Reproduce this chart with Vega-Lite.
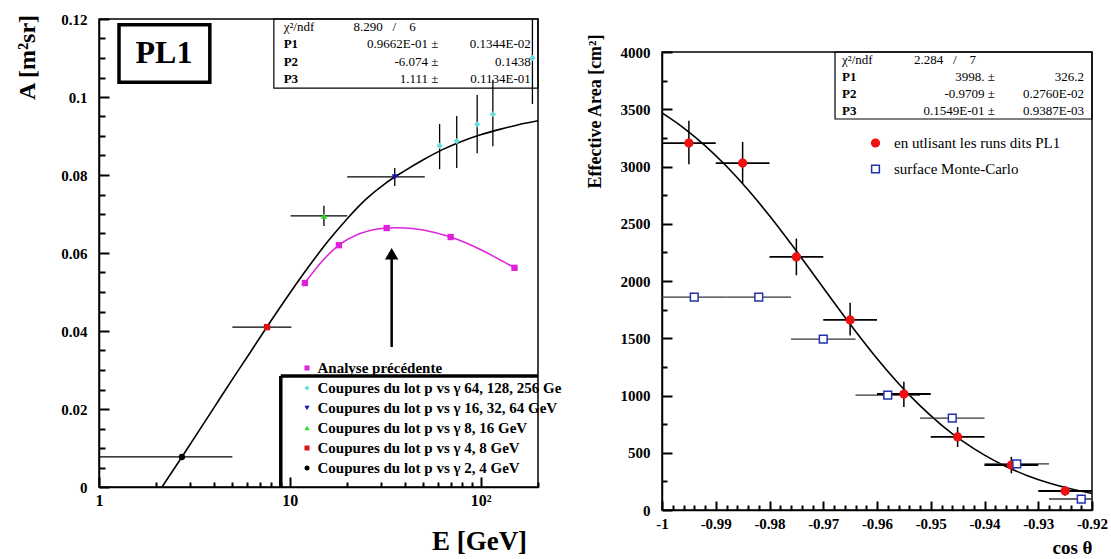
{
  "$schema": "https://vega.github.io/schema/vega-lite/v6.json",
  "background": "white",
  "padding": {"left": 14, "top": 11, "right": 0, "bottom": 0},
  "bounds": "flush",
  "spacing": 124,
  "config": {
    "font": "Liberation Serif",
    "view": {"stroke": "black", "strokeWidth": 1.5},
    "axis": {"grid": false, "domainColor": "black", "domainWidth": 1.5, "tickColor": "black", "tickWidth": 2, "labelColor": "black", "titleColor": "black", "labelFont": "Liberation Serif", "titleFont": "Liberation Serif", "labelFontWeight": "bold", "titleFontWeight": "bold", "labelOverlap": false, "labelFlush": false}
  },
  "datasets": {
    "fitL": [
      {"E": 2.14, "A": 0}, {"E": 2.72, "A": 0.0077}, {"E": 4.0, "A": 0.0203}, {"E": 4.97, "A": 0.0274},
      {"E": 6.2, "A": 0.0345}, {"E": 7.6, "A": 0.0411}, {"E": 10, "A": 0.0497}, {"E": 12.6, "A": 0.0566},
      {"E": 15.85, "A": 0.063}, {"E": 20, "A": 0.0688}, {"E": 25.1, "A": 0.0738}, {"E": 31.6, "A": 0.0778},
      {"E": 39.8, "A": 0.081}, {"E": 50.1, "A": 0.0839}, {"E": 63.1, "A": 0.0865}, {"E": 79.4, "A": 0.0886},
      {"E": 100, "A": 0.0903}, {"E": 126, "A": 0.0917}, {"E": 158, "A": 0.0929}, {"E": 200, "A": 0.0939}
    ],
    "ptsL": [
      {"series": "Analyse précédente", "E": 12.0, "A": 0.0523},
      {"series": "Analyse précédente", "E": 18.1, "A": 0.062},
      {"series": "Analyse précédente", "E": 32.2, "A": 0.0664},
      {"series": "Analyse précédente", "E": 69.7, "A": 0.0641},
      {"series": "Analyse précédente", "E": 150.6, "A": 0.0562},
      {"series": "Coupures du lot p vs γ 64, 128, 256 Ge", "E": 61, "A": 0.0875, "alo": 0.0815, "ahi": 0.0931},
      {"series": "Coupures du lot p vs γ 64, 128, 256 Ge", "E": 75, "A": 0.0887, "alo": 0.0818, "ahi": 0.0951},
      {"series": "Coupures du lot p vs γ 64, 128, 256 Ge", "E": 96, "A": 0.093, "alo": 0.0856, "ahi": 0.1005},
      {"series": "Coupures du lot p vs γ 64, 128, 256 Ge", "E": 116, "A": 0.0956, "alo": 0.0874, "ahi": 0.1044},
      {"series": "Coupures du lot p vs γ 64, 128, 256 Ge", "E": 187, "A": 0.11, "alo": 0.0982, "ahi": 0.12},
      {"series": "Coupures du lot p vs γ 16, 32, 64 GeV", "E": 35.5, "A": 0.0795, "alo": 0.0772, "ahi": 0.0818, "elo": 20, "ehi": 51},
      {"series": "Coupures du lot p vs γ 8, 16 GeV", "E": 15.1, "A": 0.0695, "alo": 0.0669, "ahi": 0.0721, "elo": 10.1, "ehi": 20},
      {"series": "Coupures du lot p vs γ 4, 8 GeV", "E": 7.6, "A": 0.041, "alo": 0.0402, "ahi": 0.0418, "elo": 5, "ehi": 10.2},
      {"series": "Coupures du lot p vs γ 2, 4 GeV", "E": 2.72, "A": 0.0077, "elo": 1, "ehi": 5}
    ],
    "arrowL": [{"E": 34.2, "A1": 0.0359, "A2": 0.0598}],
    "frameL": [
      {"x1": 8.97, "x2": 200, "y1": 0.02846, "y2": 0.02846},
      {"x1": 8.97, "x2": 8.97, "y1": 0, "y2": 0.02846}
    ],
    "pl1": [{"x1": 1.273, "x2": 3.81, "y1": 0.1185, "y2": 0.1038, "tx": 2.19, "ty": 0.1113, "label": "PL1"}],
    "boxL": [{"x1": 8.25, "x2": 200, "y1": 0.1023, "y2": 0.12}],
    "statsL": [
      {"x": 9.29, "y": 0.11795, "t": "χ²/ndf", "k": "l"},
      {"x": 9.29, "y": 0.11359, "t": "P1", "k": "lb"},
      {"x": 9.29, "y": 0.10897, "t": "P2", "k": "lb"},
      {"x": 9.29, "y": 0.10462, "t": "P3", "k": "lb"},
      {"x": 21.6, "y": 0.11795, "t": "8.290\u00a0\u00a0\u00a0/\u00a0\u00a0\u00a0\u00a06", "k": "l"},
      {"x": 60.1, "y": 0.11359, "t": "0.9662E-01 ±", "k": "r"},
      {"x": 60.1, "y": 0.10897, "t": "-6.074 ±", "k": "r"},
      {"x": 60.1, "y": 0.10462, "t": "1.111 ±", "k": "r"},
      {"x": 183.3, "y": 0.11359, "t": "0.1344E-02", "k": "r"},
      {"x": 183.3, "y": 0.10897, "t": "0.1438", "k": "r"},
      {"x": 183.3, "y": 0.10462, "t": "0.1134E-01", "k": "r"}
    ],
    "fitR": [
      {"c": -1.0, "a": 3468}, {"c": -0.996, "a": 3338}, {"c": -0.992, "a": 3183}, {"c": -0.988, "a": 3002},
      {"c": -0.984, "a": 2797}, {"c": -0.98, "a": 2570}, {"c": -0.976, "a": 2325}, {"c": -0.972, "a": 2070},
      {"c": -0.968, "a": 1812}, {"c": -0.964, "a": 1561}, {"c": -0.96, "a": 1323}, {"c": -0.956, "a": 1105},
      {"c": -0.952, "a": 911}, {"c": -0.948, "a": 742}, {"c": -0.944, "a": 599}, {"c": -0.94, "a": 479},
      {"c": -0.936, "a": 380}, {"c": -0.932, "a": 300}, {"c": -0.928, "a": 236}, {"c": -0.924, "a": 185}, {"c": -0.92, "a": 144}
    ],
    "ptsR": [
      {"series": "en utlisant les runs dits PL1", "c": -0.995, "a": 3205, "alo": 3020, "ahi": 3400, "clo": -1.0, "chi": -0.99},
      {"series": "en utlisant les runs dits PL1", "c": -0.985, "a": 3030, "alo": 2850, "ahi": 3215, "clo": -0.99, "chi": -0.98},
      {"series": "en utlisant les runs dits PL1", "c": -0.975, "a": 2210, "alo": 2050, "ahi": 2370, "clo": -0.98, "chi": -0.97},
      {"series": "en utlisant les runs dits PL1", "c": -0.965, "a": 1660, "alo": 1525, "ahi": 1810, "clo": -0.97, "chi": -0.96},
      {"series": "en utlisant les runs dits PL1", "c": -0.955, "a": 1013, "alo": 900, "ahi": 1120, "clo": -0.96, "chi": -0.95},
      {"series": "en utlisant les runs dits PL1", "c": -0.945, "a": 638, "alo": 550, "ahi": 725, "clo": -0.95, "chi": -0.94},
      {"series": "en utlisant les runs dits PL1", "c": -0.935, "a": 393, "alo": 320, "ahi": 465, "clo": -0.94, "chi": -0.93},
      {"series": "en utlisant les runs dits PL1", "c": -0.925, "a": 166, "alo": 125, "ahi": 210, "clo": -0.93, "chi": -0.92},
      {"series": "surface Monte-Carlo", "c": -0.994, "a": 1860, "clo": -1.0, "chi": -0.988},
      {"series": "surface Monte-Carlo", "c": -0.982, "a": 1860, "clo": -0.988, "chi": -0.976},
      {"series": "surface Monte-Carlo", "c": -0.97, "a": 1493, "clo": -0.976, "chi": -0.964},
      {"series": "surface Monte-Carlo", "c": -0.958, "a": 1004, "clo": -0.964, "chi": -0.952},
      {"series": "surface Monte-Carlo", "c": -0.946, "a": 803, "clo": -0.952, "chi": -0.94},
      {"series": "surface Monte-Carlo", "c": -0.934, "a": 402, "clo": -0.94, "chi": -0.928},
      {"series": "surface Monte-Carlo", "c": -0.922, "a": 96, "clo": -0.928, "chi": -0.92}
    ],
    "boxR": [{"x1": -0.96781, "x2": -0.92, "y1": 3415, "y2": 4000}],
    "statsR": [
      {"x": -0.96651, "y": 3930, "t": "χ²/ndf", "k": "l"},
      {"x": -0.96651, "y": 3782, "t": "P1", "k": "lb"},
      {"x": -0.96651, "y": 3633, "t": "P2", "k": "lb"},
      {"x": -0.96651, "y": 3485, "t": "P3", "k": "lb"},
      {"x": -0.95312, "y": 3930, "t": "2.284\u00a0\u00a0\u00a0/\u00a0\u00a0\u00a0\u00a07", "k": "l"},
      {"x": -0.93805, "y": 3782, "t": "3998. ±", "k": "r"},
      {"x": -0.93805, "y": 3633, "t": "-0.9709 ±", "k": "r"},
      {"x": -0.93805, "y": 3485, "t": "0.1549E-01 ±", "k": "r"},
      {"x": -0.92149, "y": 3782, "t": "326.2", "k": "r"},
      {"x": -0.92149, "y": 3633, "t": "0.2760E-02", "k": "r"},
      {"x": -0.92149, "y": 3485, "t": "0.9387E-03", "k": "r"}
    ]
  },
  "resolve": {"scale": {"color": "independent", "shape": "independent", "fill": "independent", "stroke": "independent"}},
  "hconcat": [
    {
      "width": 439,
      "height": 468,
      "layer": [
        {
          "data": {"name": "fitL"},
          "mark": {"type": "line", "color": "black", "strokeWidth": 1.6, "interpolate": "monotone", "clip": true},
          "encoding": {
            "x": {"field": "E", "type": "quantitative", "title": "E [GeV]",
              "scale": {"type": "log", "domain": [1, 200], "nice": false},
              "axis": {"values": [1,2,3,4,5,6,7,8,9,10,20,30,40,50,60,70,80,90,100,200], "tickCount": 500,
                "labelExpr": "datum.value == 1 ? '1' : datum.value == 10 ? '10' : datum.value == 100 ? '10²' : ''",
                "tickSize": {"condition": {"test": "datum.value == 1 || datum.value == 10 || datum.value == 100", "value": -10}, "value": -5},
                "labelOverlap": false, "labelFlush": false,
                "labelPadding": 15, "labelFontSize": 16, "titleFontSize": 27,
                "titleX": 380, "titleY": 54, "titleAlign": "center", "titleBaseline": "middle"}},
            "y": {"field": "A", "type": "quantitative", "title": "A [m²sr]",
              "scale": {"domain": [0, 0.12], "nice": false},
              "axis": {"values": [0,0.005,0.01,0.015,0.02,0.025,0.03,0.035,0.04,0.045,0.05,0.055,0.06,0.065,0.07,0.075,0.08,0.085,0.09,0.095,0.1,0.105,0.11,0.115,0.12], "tickCount": 500,
                "labelExpr": "abs(datum.value*50 - round(datum.value*50)) < 1e-6 ? format(datum.value, '~g') : ''",
                "tickSize": {"condition": {"test": "abs(datum.value*50 - round(datum.value*50)) < 1e-6", "value": -10}, "value": -6},
                "labelOverlap": false, "labelFlush": false,
                "labelPadding": 22, "labelFontSize": 15, "titleFontSize": 24,
                "titleX": -72, "titleY": 38, "titleAlign": "center", "titleBaseline": "middle", "titleAngle": -90}}
          }
        },
        {
          "data": {"name": "ptsL"},
          "transform": [{"filter": "datum.series === 'Analyse précédente'"}],
          "mark": {"type": "line", "color": "#dd22dd", "strokeWidth": 1.5, "interpolate": "natural"},
          "encoding": {"x": {"field": "E", "type": "quantitative", "title": "E [GeV]"}, "y": {"field": "A", "type": "quantitative", "title": "A [m²sr]"}}
        },
        {
          "data": {"name": "ptsL"},
          "transform": [{"filter": "isValid(datum.elo)"}],
          "mark": {"type": "rule", "color": "black", "strokeWidth": 1.2, "clip": true},
          "encoding": {"x": {"field": "elo", "type": "quantitative", "title": "E [GeV]"}, "x2": {"field": "ehi"}, "y": {"field": "A", "type": "quantitative", "title": "A [m²sr]"}}
        },
        {
          "data": {"name": "ptsL"},
          "transform": [{"filter": "isValid(datum.alo)"}],
          "mark": {"type": "rule", "color": "black", "strokeWidth": 1.3, "clip": true},
          "encoding": {"x": {"field": "E", "type": "quantitative", "title": "E [GeV]"}, "y": {"field": "alo", "type": "quantitative", "title": "A [m²sr]"}, "y2": {"field": "ahi"}}
        },
        {
          "data": {"name": "ptsL"},
          "mark": {"type": "point", "filled": true, "opacity": 1, "size": 40},
          "encoding": {
            "x": {"field": "E", "type": "quantitative", "title": "E [GeV]"},
            "y": {"field": "A", "type": "quantitative", "title": "A [m²sr]"},
            "color": {"field": "series", "type": "nominal",
              "scale": {"domain": ["Analyse précédente", "Coupures du lot p vs γ 64, 128, 256 Ge", "Coupures du lot p vs γ 16, 32, 64 GeV", "Coupures du lot p vs γ 8, 16 GeV", "Coupures du lot p vs γ 4, 8 GeV", "Coupures du lot p vs γ 2, 4 GeV"],
                "range": ["#dd22dd", "#66dddd", "#1010c0", "#22dd22", "#dd1111", "#000000"]},
              "legend": {"orient": "none", "legendX": 200.5, "legendY": 341.5, "title": null, "padding": 0, "labelFont": "Liberation Serif", "labelFontWeight": "bold", "labelFontSize": 15, "labelColor": "black", "symbolSize": 25, "rowPadding": 4, "labelOffset": 3, "labelLimit": 500}},
            "shape": {"field": "series", "type": "nominal",
              "scale": {"domain": ["Analyse précédente", "Coupures du lot p vs γ 64, 128, 256 Ge", "Coupures du lot p vs γ 16, 32, 64 GeV", "Coupures du lot p vs γ 8, 16 GeV", "Coupures du lot p vs γ 4, 8 GeV", "Coupures du lot p vs γ 2, 4 GeV"],
                "range": ["square", "diamond", "triangle-down", "triangle-up", "square", "circle"]},
              "legend": {"orient": "none", "legendX": 200.5, "legendY": 341.5, "title": null, "padding": 0, "labelFont": "Liberation Serif", "labelFontWeight": "bold", "labelFontSize": 15, "labelColor": "black", "symbolSize": 25, "rowPadding": 4, "labelOffset": 3, "labelLimit": 500}}
          }
        },
        {
          "data": {"name": "arrowL"},
          "mark": {"type": "rule", "color": "black", "strokeWidth": 2.5},
          "encoding": {"x": {"field": "E", "type": "quantitative", "title": "E [GeV]"}, "y": {"field": "A1", "type": "quantitative", "title": "A [m²sr]"}, "y2": {"field": "A2"}}
        },
        {
          "data": {"name": "arrowL"},
          "mark": {"type": "point", "shape": "triangle-up", "filled": true, "color": "black", "opacity": 1, "size": 180},
          "encoding": {"x": {"field": "E", "type": "quantitative", "title": "E [GeV]"}, "y": {"field": "A2", "type": "quantitative", "title": "A [m²sr]"}}
        },
        {
          "data": {"name": "frameL"},
          "mark": {"type": "rule", "color": "black", "strokeWidth": 3.5},
          "encoding": {"x": {"field": "x1", "type": "quantitative", "title": "E [GeV]"}, "x2": {"field": "x2"}, "y": {"field": "y1", "type": "quantitative", "title": "A [m²sr]"}, "y2": {"field": "y2"}}
        },
        {
          "data": {"name": "pl1"},
          "mark": {"type": "rect", "fillOpacity": 0, "stroke": "black", "strokeWidth": 3.5},
          "encoding": {"x": {"field": "x1", "type": "quantitative", "title": "E [GeV]"}, "x2": {"field": "x2"}, "y": {"field": "y1", "type": "quantitative", "title": "A [m²sr]"}, "y2": {"field": "y2"}}
        },
        {
          "data": {"name": "pl1"},
          "mark": {"type": "text", "font": "Liberation Serif", "fontWeight": "bold", "fontSize": 32, "align": "center", "baseline": "middle", "color": "black"},
          "encoding": {"x": {"field": "tx", "type": "quantitative", "title": "E [GeV]"}, "y": {"field": "ty", "type": "quantitative", "title": "A [m²sr]"}, "text": {"field": "label"}}
        },
        {
          "data": {"name": "boxL"},
          "mark": {"type": "rect", "fillOpacity": 0, "stroke": "black", "strokeWidth": 1.2},
          "encoding": {"x": {"field": "x1", "type": "quantitative", "title": "E [GeV]"}, "x2": {"field": "x2"}, "y": {"field": "y1", "type": "quantitative", "title": "A [m²sr]"}, "y2": {"field": "y2"}}
        },
        {
          "data": {"name": "statsL"},
          "transform": [{"filter": "datum.k === 'l'"}],
          "mark": {"type": "text", "font": "Liberation Serif", "fontSize": 13, "align": "left", "baseline": "middle", "color": "black"},
          "encoding": {"x": {"field": "x", "type": "quantitative", "title": "E [GeV]"}, "y": {"field": "y", "type": "quantitative", "title": "A [m²sr]"}, "text": {"field": "t"}}
        },
        {
          "data": {"name": "statsL"},
          "transform": [{"filter": "datum.k === 'lb'"}],
          "mark": {"type": "text", "font": "Liberation Serif", "fontSize": 13, "fontWeight": "bold", "align": "left", "baseline": "middle", "color": "black"},
          "encoding": {"x": {"field": "x", "type": "quantitative", "title": "E [GeV]"}, "y": {"field": "y", "type": "quantitative", "title": "A [m²sr]"}, "text": {"field": "t"}}
        },
        {
          "data": {"name": "statsL"},
          "transform": [{"filter": "datum.k === 'r'"}],
          "mark": {"type": "text", "font": "Liberation Serif", "fontSize": 13, "align": "right", "baseline": "middle", "color": "black"},
          "encoding": {"x": {"field": "x", "type": "quantitative", "title": "E [GeV]"}, "y": {"field": "y", "type": "quantitative", "title": "A [m²sr]"}, "text": {"field": "t"}}
        }
      ]
    },
    {
      "spacing": 0,
      "bounds": "flush",
      "vconcat": [
        {
          "width": 430,
          "height": 33,
          "view": {"stroke": null},
          "data": {"values": [{"z": 0}]},
          "mark": {"type": "point", "opacity": 0}
        },
        {
          "width": 430,
          "height": 458,
          "layer": [
            {
              "data": {"name": "fitR"},
              "mark": {"type": "line", "color": "black", "strokeWidth": 1.6, "interpolate": "monotone"},
              "encoding": {
                "x": {"field": "c", "type": "quantitative", "title": "cos θ",
                  "scale": {"domain": [-1, -0.92], "nice": false, "zero": false},
                  "axis": {"values": [-1,-0.998,-0.996,-0.994,-0.992,-0.99,-0.988,-0.986,-0.984,-0.982,-0.98,-0.978,-0.976,-0.974,-0.972,-0.97,-0.968,-0.966,-0.964,-0.962,-0.96,-0.958,-0.956,-0.954,-0.952,-0.95,-0.948,-0.946,-0.944,-0.942,-0.94,-0.938,-0.936,-0.934,-0.932,-0.93,-0.928,-0.926,-0.924,-0.922,-0.92], "tickCount": 500,
                    "labelExpr": "abs(datum.value*100 - round(datum.value*100)) < 1e-6 ? '-' + format(-datum.value, '.2~f') : ''",
                    "tickSize": {"condition": {"test": "abs(datum.value*100 - round(datum.value*100)) < 1e-6", "value": -9}, "value": -5},
                    "labelOverlap": false, "labelFlush": false, "labelBound": false,
                    "labelPadding": 15, "labelFontSize": 15, "titleFontSize": 19,
                    "titleX": 410, "titleY": 37, "titleAlign": "center", "titleBaseline": "middle"}},
                "y": {"field": "a", "type": "quantitative", "title": "Effective Area [cm²]",
                  "scale": {"domain": [0, 4000], "nice": false},
                  "axis": {"values": [0,250,500,750,1000,1250,1500,1750,2000,2250,2500,2750,3000,3250,3500,3750,4000], "tickCount": 500,
                    "labelExpr": "datum.value % 500 == 0 ? format(datum.value, 'd') : ''",
                    "tickSize": {"condition": {"test": "datum.value % 500 == 0", "value": -10}, "value": -5},
                    "labelOverlap": false, "labelFlush": false,
                    "labelPadding": 22, "labelFontSize": 15, "titleFontSize": 18,
                    "titleX": -67, "titleY": 59, "titleAlign": "center", "titleBaseline": "middle", "titleAngle": -90}}
              }
            },
            {
              "data": {"name": "ptsR"},
              "transform": [{"filter": "datum.series === 'surface Monte-Carlo'"}],
              "mark": {"type": "rule", "color": "#333333", "strokeWidth": 1.3, "clip": true},
              "encoding": {"x": {"field": "clo", "type": "quantitative", "title": "cos θ"}, "x2": {"field": "chi"}, "y": {"field": "a", "type": "quantitative", "title": "Effective Area [cm²]"}}
            },
            {
              "data": {"name": "ptsR"},
              "transform": [{"filter": "datum.series !== 'surface Monte-Carlo'"}],
              "mark": {"type": "rule", "color": "black", "strokeWidth": 1.8, "clip": true},
              "encoding": {"x": {"field": "clo", "type": "quantitative", "title": "cos θ"}, "x2": {"field": "chi"}, "y": {"field": "a", "type": "quantitative", "title": "Effective Area [cm²]"}}
            },
            {
              "data": {"name": "ptsR"},
              "transform": [{"filter": "isValid(datum.alo)"}],
              "mark": {"type": "rule", "color": "black", "strokeWidth": 1.5},
              "encoding": {"x": {"field": "c", "type": "quantitative", "title": "cos θ"}, "y": {"field": "alo", "type": "quantitative", "title": "Effective Area [cm²]"}, "y2": {"field": "ahi"}}
            },
            {
              "data": {"name": "ptsR"},
              "mark": {"type": "point", "opacity": 1, "size": 60, "strokeWidth": 1.5},
              "encoding": {
                "x": {"field": "c", "type": "quantitative", "title": "cos θ"},
                "y": {"field": "a", "type": "quantitative", "title": "Effective Area [cm²]"},
                "fill": {"field": "series", "type": "nominal",
                  "scale": {"domain": ["en utlisant les runs dits PL1", "surface Monte-Carlo"], "range": ["#ee1111", "#ffffff"]},
                  "legend": {"orient": "none", "legendX": 206, "legendY": 116.5, "title": null, "padding": 0, "labelFont": "Liberation Serif", "labelFontSize": 15, "labelColor": "black", "symbolSize": 60, "symbolStrokeWidth": 1.5, "rowPadding": 10, "labelOffset": 11, "labelLimit": 500}},
                "stroke": {"field": "series", "type": "nominal",
                  "scale": {"domain": ["en utlisant les runs dits PL1", "surface Monte-Carlo"], "range": ["#ee1111", "#2233aa"]},
                  "legend": {"orient": "none", "legendX": 206, "legendY": 116.5, "title": null, "padding": 0, "labelFont": "Liberation Serif", "labelFontSize": 15, "labelColor": "black", "symbolSize": 60, "symbolStrokeWidth": 1.5, "rowPadding": 10, "labelOffset": 11, "labelLimit": 500}},
                "shape": {"field": "series", "type": "nominal",
                  "scale": {"domain": ["en utlisant les runs dits PL1", "surface Monte-Carlo"], "range": ["circle", "square"]},
                  "legend": {"orient": "none", "legendX": 206, "legendY": 116.5, "title": null, "padding": 0, "labelFont": "Liberation Serif", "labelFontSize": 15, "labelColor": "black", "symbolSize": 60, "symbolStrokeWidth": 1.5, "rowPadding": 10, "labelOffset": 11, "labelLimit": 500}}
              }
            },
            {
              "data": {"name": "boxR"},
              "mark": {"type": "rect", "fillOpacity": 0, "stroke": "black", "strokeWidth": 1.2},
              "encoding": {"x": {"field": "x1", "type": "quantitative", "title": "cos θ"}, "x2": {"field": "x2"}, "y": {"field": "y1", "type": "quantitative", "title": "Effective Area [cm²]"}, "y2": {"field": "y2"}}
            },
            {
              "data": {"name": "statsR"},
              "transform": [{"filter": "datum.k === 'l'"}],
              "mark": {"type": "text", "font": "Liberation Serif", "fontSize": 13, "align": "left", "baseline": "middle", "color": "black"},
              "encoding": {"x": {"field": "x", "type": "quantitative", "title": "cos θ"}, "y": {"field": "y", "type": "quantitative", "title": "Effective Area [cm²]"}, "text": {"field": "t"}}
            },
            {
              "data": {"name": "statsR"},
              "transform": [{"filter": "datum.k === 'lb'"}],
              "mark": {"type": "text", "font": "Liberation Serif", "fontSize": 13, "fontWeight": "bold", "align": "left", "baseline": "middle", "color": "black"},
              "encoding": {"x": {"field": "x", "type": "quantitative", "title": "cos θ"}, "y": {"field": "y", "type": "quantitative", "title": "Effective Area [cm²]"}, "text": {"field": "t"}}
            },
            {
              "data": {"name": "statsR"},
              "transform": [{"filter": "datum.k === 'r'"}],
              "mark": {"type": "text", "font": "Liberation Serif", "fontSize": 13, "align": "right", "baseline": "middle", "color": "black"},
              "encoding": {"x": {"field": "x", "type": "quantitative", "title": "cos θ"}, "y": {"field": "y", "type": "quantitative", "title": "Effective Area [cm²]"}, "text": {"field": "t"}}
            }
          ]
        }
      ]
    }
  ]
}
